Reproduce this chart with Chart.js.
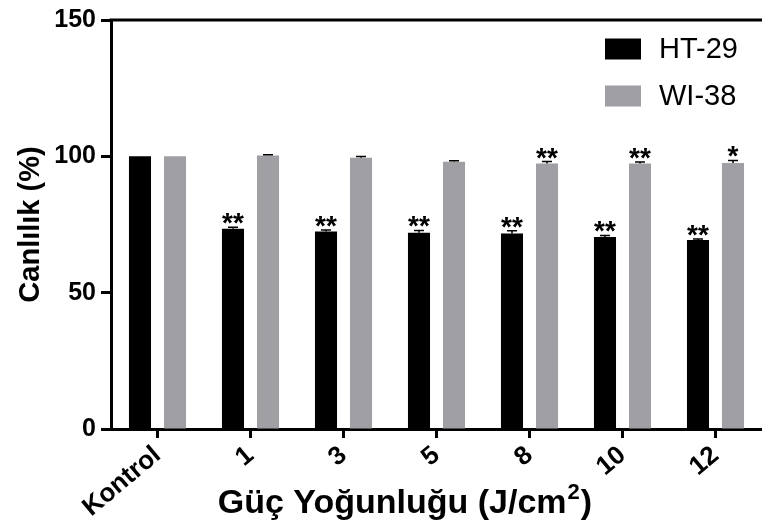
<!DOCTYPE html>
<html>
<head>
<meta charset="utf-8">
<script src="https://cdn.jsdelivr.net/npm/chart.js@4/dist/chart.umd.min.js"></script>
<style>
  html, body { margin: 0; padding: 0; background: #fff; }
  #wrap { width: 762px; height: 530px; }
</style>
</head>
<body>
<div id="wrap"><canvas id="c" width="762" height="530"></canvas></div>
<script>
// Viability (%) per power density group
const categories = ['Kontrol', '1', '3', '5', '8', '10', '12'];
const htValues = [100, 73.4, 72.4, 72.0, 71.7, 70.4, 69.3];
const htErrors = [0, 0.6, 0.6, 0.8, 1.0, 0.6, 0.4];
const wiValues = [100, 100.3, 99.5, 98.0, 97.4, 97.4, 97.6];
const wiErrors = [0, 0.3, 0.4, 0.4, 0.7, 0.5, 0.9];
const htStars = ['', '**', '**', '**', '**', '**', '**'];
const wiStars = ['', '', '', '', '**', '**', '*'];
const seriesNames = ['HT-29', 'WI-38'];
const yTitle = 'Canlılık (%)';
const xTitleMain = 'Güç Yoğunluğu (J/cm';
const xTitleSup = '2';
const xTitleEnd = ')';

const FONT = "'Liberation Sans', Arial, sans-serif";
const BLACK = '#000000';
const GREY = '#a0a0a4';

const errorStars = [
  { values: htValues, errors: htErrors, stars: htStars },
  { values: wiValues, errors: wiErrors, stars: wiStars }
];

const overlay = {
  id: 'overlay',
  afterDatasetsDraw(chart) {
    const ctx = chart.ctx;
    const area = chart.chartArea;
    const y = chart.scales.y;

    // frame line along the top of the plot
    ctx.save();
    ctx.strokeStyle = BLACK;
    ctx.lineWidth = 3;
    ctx.beginPath();
    ctx.moveTo(area.left - 1.5, area.top);
    ctx.lineTo(area.right, area.top);
    ctx.stroke();

    // error bars and significance marks
    errorStars.forEach((s, di) => {
      const meta = chart.getDatasetMeta(di);
      meta.data.forEach((bar, i) => {
        const err = s.errors[i];
        const topY = y.getPixelForValue(s.values[i] + err);
        if (err > 0) {
          ctx.strokeStyle = BLACK;
          ctx.lineWidth = 1.5;
          ctx.beginPath();
          ctx.moveTo(bar.x, bar.y);
          ctx.lineTo(bar.x, topY);
          ctx.moveTo(bar.x - 5, topY);
          ctx.lineTo(bar.x + 5, topY);
          ctx.stroke();
        }
        if (s.stars[i]) {
          ctx.font = 'bold 28px ' + FONT;
          ctx.fillStyle = BLACK;
          ctx.textAlign = 'center';
          ctx.textBaseline = 'alphabetic';
          const m = ctx.measureText(s.stars[i]);
          ctx.fillText(s.stars[i], bar.x, topY - 3 - m.actualBoundingBoxDescent);
        }
      });
    });

    // legend inside the plot, upper right
    const lx = area.right - 157;
    const rows = [area.top + 29, area.top + 76];
    [BLACK, GREY].forEach((col, k) => {
      ctx.fillStyle = col;
      ctx.fillRect(lx, rows[k] - 10.5, 36, 21);
      ctx.fillStyle = BLACK;
      ctx.font = '29px ' + FONT;
      ctx.textAlign = 'left';
      ctx.textBaseline = 'middle';
      ctx.fillText(seriesNames[k], lx + 54, rows[k] + 1);
    });

    // y axis title
    ctx.save();
    ctx.translate(31, (area.top + area.bottom) / 2);
    ctx.rotate(-Math.PI / 2);
    ctx.font = 'bold 29px ' + FONT;
    ctx.textAlign = 'center';
    ctx.textBaseline = 'middle';
    ctx.fillText(yTitle, 0, 0);
    ctx.restore();

    // x axis title with superscript
    const big = 'bold 34px ' + FONT;
    const small = 'bold 22px ' + FONT;
    ctx.font = big;
    const w1 = ctx.measureText(xTitleMain).width;
    const w3 = ctx.measureText(xTitleEnd).width;
    ctx.font = small;
    const w2 = ctx.measureText(xTitleSup).width;
    const total = w1 + w2 + w3;
    const cx = area.left + area.width * 0.45;
    const by = 513;
    let x0 = cx - total / 2;
    ctx.textAlign = 'left';
    ctx.textBaseline = 'alphabetic';
    ctx.font = big;
    ctx.fillText(xTitleMain, x0, by);
    ctx.font = small;
    ctx.fillText(xTitleSup, x0 + w1 + 1, by - 14);
    ctx.font = big;
    ctx.fillText(xTitleEnd, x0 + w1 + w2 + 2, by);
    ctx.restore();
  }
};

new Chart(document.getElementById('c'), {
  type: 'bar',
  data: {
    labels: categories,
    datasets: [
      { label: seriesNames[0], data: htValues, backgroundColor: BLACK, borderWidth: 0 },
      { label: seriesNames[1], data: wiValues, backgroundColor: GREY, borderWidth: 0 }
    ]
  },
  options: {
    responsive: false,
    animation: false,
    devicePixelRatio: 1,
    categoryPercentage: 0.753,
    barPercentage: 0.63,
    layout: { padding: { top: 14, right: 0, left: 0, bottom: 0 } },
    plugins: {
      legend: { display: false },
      tooltip: { enabled: false },
      title: { display: false }
    },
    scales: {
      x: {
        offset: true,
        grid: {
          display: true, drawOnChartArea: false, offset: false,
          tickLength: 9, tickWidth: 3, tickColor: BLACK
        },
        border: { display: true, color: BLACK, width: 3 },
        ticks: {
          color: BLACK,
          font: { family: FONT, size: 26, weight: 'bold' },
          minRotation: 40, maxRotation: 40,
          padding: 2,
          autoSkip: false
        },
        afterFit(scale) { scale.height = 101; }
      },
      y: {
        min: 0, max: 150,
        grid: {
          display: true, drawOnChartArea: false,
          tickLength: 10, tickWidth: 3, tickColor: BLACK
        },
        border: { display: true, color: BLACK, width: 3 },
        ticks: {
          stepSize: 50,
          color: BLACK,
          padding: 5,
          font: { family: FONT, size: 25, weight: 'bold' }
        },
        afterFit(scale) { scale.width = 111; }
      }
    }
  },
  plugins: [overlay]
});
</script>
</body>
</html>
